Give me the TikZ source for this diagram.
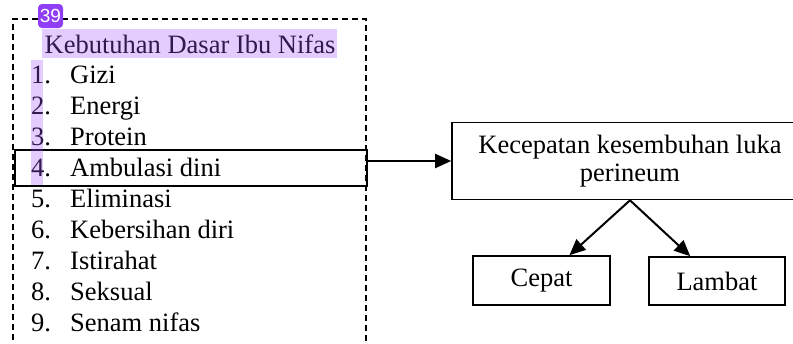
\documentclass[tikz,border=0pt]{standalone}
\usepackage{fontspec}
\setmainfont{Liberation Serif}
\newfontfamily\badgefont{Liberation Sans}
\usetikzlibrary{arrows.meta}

\definecolor{markpurple}{RGB}{168,85,255}
\definecolor{badgepurple}{RGB}{143,62,245}

\begin{document}
\begin{tikzpicture}[x=1pt, y=-1pt,
    font=\fontsize{26.5}{28}\selectfont,
    box/.style={draw, line width=1.6pt, inner sep=0pt, align=center},
    item/.style={anchor=base west, inner sep=0pt},
    arr/.style={-{Triangle[length=16pt, width=14pt]}, line width=2pt},
    hilite/.style={fill=markpurple, opacity=0.3}]
        \clip (0,0) rectangle (793,343);
        % Independent variable (dashed frame)
        \draw[dash pattern=on 6pt off 4pt, line width=1.6pt] (13,350) -- (13,19) -- (366,19) -- (366,350);
        \node[inner sep=0pt, anchor=base] (judul) at (190,53) {Kebutuhan Dasar Ibu Nifas};
        \foreach \t [count=\i] in {Gizi, Energi, Protein, Ambulasi dini, Eliminasi, Kebersihan diri, Istirahat, Seksual, Senam nifas} {
          \node[item] (no\i) at (31, 52+31*\i) {\i.};
          \node[item] (it\i) at (70, 52+31*\i) {\t};
        }
        \node[box, anchor=north west, minimum width=352pt, minimum height=36pt] (amb) at (14,149) {};
        % Dependent variable and outcomes
        \node[box, minimum width=356pt, minimum height=77pt] (kec) at (630,161) {Kecepatan kesembuhan luka\\perineum};
        \node[box, minimum width=137pt, minimum height=49pt] (cep) at (541.5,280.5) {Cepat};
        \node[box, minimum width=136pt, minimum height=48pt] (lam) at (717,281) {Lambat};
        \draw[arr] (amb.east |- kec.west) -- (kec.west);
        \draw[arr] (kec.south) -- (cep);
        \draw[arr] (kec.south) -- (lam);
        % Highlights and badge
        \fill[hilite] (42,29) rectangle (337,58);
        \fill[hilite] (31,60) rectangle (43,185);
        \node[fill=badgepurple, rounded corners=4pt, text=white, font=\badgefont\fontsize{19}{19}\selectfont,
          minimum width=25pt, minimum height=24pt, inner sep=0pt] (lencana) at (50.5,16) {39};
      \end{tikzpicture}
\end{document}
